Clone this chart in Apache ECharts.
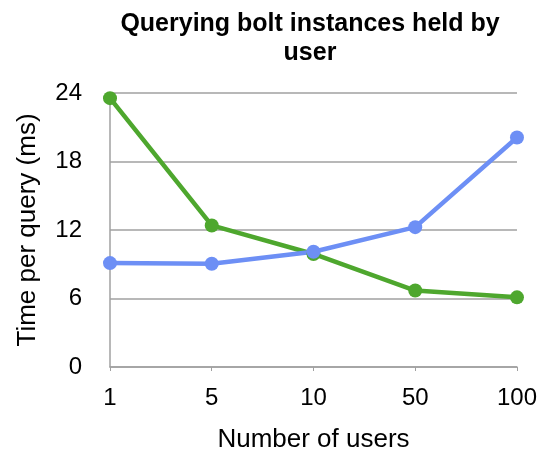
<!DOCTYPE html>
<html>
<head>
<meta charset="utf-8">
<script src="https://cdn.jsdelivr.net/npm/echarts@6/dist/echarts.min.js"></script>
<style>
html, body { margin: 0; padding: 0; background: #fff; }
#chart { width: 540px; height: 460px; }
</style>
</head>
<body>
<div id="chart"></div>
<script>
var userCounts = ['1', '5', '10', '50', '100'];
var greenTimes = [23.55, 12.4, 9.9, 6.7, 6.1];
var blueTimes = [9.1, 9.05, 10.1, 12.25, 20.1];
var yTicks = [0, 6, 12, 18, 24];

var fontName = "'Liberation Sans', Arial, sans-serif";

var myChart = echarts.init(document.getElementById('chart'));

var option = {
    animation: false,
    title: {
        text: 'Querying bolt instances held by\nuser',
        left: 305,
        top: 5,
        textAlign: 'center',
        textStyle: {
            fontFamily: fontName,
            fontWeight: 'bold',
            fontSize: 25,
            lineHeight: 29,
            color: '#000'
        }
    },
    grid: {
        left: 110,
        right: 23,
        top: 93,
        bottom: 93
    },
    xAxis: {
        type: 'category',
        data: userCounts,
        boundaryGap: false,
        name: 'Number of users',
        nameLocation: 'middle',
        nameGap: 60,
        nameTextStyle: { fontFamily: fontName, fontSize: 26, color: '#000' },
        axisLine: { lineStyle: { color: '#a0a0a0', width: 1.5 } },
        axisTick: { show: true, alignWithLabel: true, length: 4, lineStyle: { color: '#a0a0a0' } },
        axisLabel: { fontFamily: fontName, fontSize: 24, color: '#000', margin: 19 },
        splitLine: { show: false }
    },
    yAxis: {
        type: 'value',
        min: yTicks[0],
        max: yTicks[yTicks.length - 1],
        interval: 6,
        name: 'Time per query (ms)',
        nameLocation: 'middle',
        nameGap: 69,
        nameTextStyle: { fontFamily: fontName, fontSize: 26, color: '#000' },
        axisLine: { show: true, lineStyle: { color: '#a0a0a0', width: 1.5 } },
        axisTick: { show: false },
        axisLabel: { fontFamily: fontName, fontSize: 24, color: '#000', margin: 28 },
        splitLine: { lineStyle: { color: '#a0a0a0', width: 1.5 } }
    },
    series: [
        {
            name: 'green',
            type: 'line',
            data: greenTimes,
            symbol: 'circle',
            symbolSize: 14,
            lineStyle: { color: '#4ea72e', width: 4.5 },
            itemStyle: { color: '#4ea72e' }
        },
        {
            name: 'blue',
            type: 'line',
            data: blueTimes,
            symbol: 'circle',
            symbolSize: 14,
            lineStyle: { color: '#6d8ff5', width: 4.5 },
            itemStyle: { color: '#6d8ff5' }
        }
    ]
};

myChart.setOption(option);
</script>
</body>
</html>
